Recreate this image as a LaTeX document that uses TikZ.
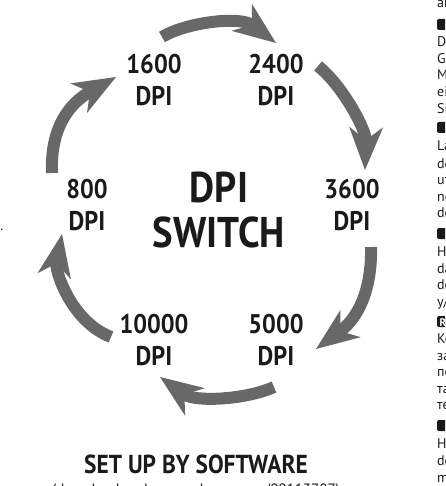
\documentclass[tikz,border=0pt]{standalone}
\usepackage{fontspec}
\setmainfont{PT Sans}
\newfontfamily\labelfont[FakeStretch=0.9]{PT Sans}
\usetikzlibrary{arrows.meta}
\definecolor{arrowgray}{RGB}{104,104,104}
\definecolor{inkblack}{RGB}{26,26,26}

\begin{document}
\begin{tikzpicture}[x=1pt,y=-1pt,
    dpilabel/.style={font=\labelfont\bfseries\fontsize{27}{32}\selectfont, align=center, inner sep=0pt, text=inkblack},
    cyclearrow/.style={draw=arrowgray, line width=12pt,
        -{Stealth[length=43pt,width=34pt,inset=13pt,line width=0pt]}},
    sidetext/.style={font=\fontsize{14}{17}\selectfont, anchor=base west, inner sep=0pt, text=inkblack}]

    % Seitenformat
    \useasboundingbox (0,0) rectangle (445,486);
    \clip (0,0) rectangle (445,486);

    % DPI-Stufen
    \node[dpilabel] (n1600)  at (154,80)  {1600\\DPI};
    \node[dpilabel] (n2400)  at (276,80)  {2400\\DPI};
    \node[dpilabel] (n800)   at (87,205)  {800\\DPI};
    \node[dpilabel] (n3600)  at (352,205) {3600\\DPI};
    \node[dpilabel] (n10000) at (154,340) {10000\\DPI};
    \node[dpilabel] (n5000)  at (276,340) {5000\\DPI};

    \node[font=\labelfont\bfseries\fontsize{43}{45}\selectfont, align=center, inner sep=0pt, text=inkblack]
        (title) at (219,210) {DPI\\SWITCH};

    % Pfeilenden
    \coordinate (t1600)  at (162,37);  \coordinate (h2400)  at (276,43);
    \coordinate (t2400)  at (318,66);  \coordinate (h3600)  at (365,170);
    \coordinate (t3600)  at (371,247); \coordinate (h5000)  at (316,349);
    \coordinate (t5000)  at (274,387); \coordinate (h10000) at (160,377);
    \coordinate (t10000) at (111,337); \coordinate (h800)   at (62,234);
    \coordinate (t800)   at (52,173);  \coordinate (h1600)  at (116,77);

    % Kreislauf
    \draw[cyclearrow] (t1600)  .. controls (187,22)  and (240,16)  .. (h2400);
    \draw[cyclearrow] (t2400)  .. controls (343,86)  and (366,130) .. (h3600);
    \draw[cyclearrow] (t3600)  .. controls (372,290) and (358,318) .. (h5000);
    \draw[cyclearrow] (t5000)  .. controls (245,400) and (195,402) .. (h10000);
    \draw[cyclearrow] (t10000) .. controls (72,322)  and (55,272)  .. (h800);
    \draw[cyclearrow] (t800)   .. controls (50,125)  and (72,102)  .. (h1600);

    % Fusszeile
    \node[font=\labelfont\bfseries\fontsize{26}{30}\selectfont, anchor=base, inner sep=0pt, text=inkblack]
        (setup) at (196,473) {SET UP BY SOFTWARE};
    \node[font=\fontsize{15}{18}\selectfont, anchor=base, inner sep=0pt, text=inkblack]
        (download) at (196,494) {(download under www.hama.com/00113787)};

    % Nachbarspalte (abgeschnitten)
    \foreach \yy in {19,122,228,316,420} {
        \fill[inkblack, rounded corners=2pt] (437,\yy) rectangle (475,\yy+11);
    }
    \node[sidetext, text=white, font=\bfseries\fontsize{11}{13}\selectfont] (boxR) at (439.5,326) {R};
    \foreach \txt/\yy [count=\k] in {ar/8, Di/47, G/63.5, M/80, ei/97, Si/113.5,
            La/151, de/168, ut/184, no/201, de/217,
            Ha/256, da/273, de/289, y\slash/306,
            Ко/343, за/360, по/376, та/393, те/409,
            Ha/448, de/465, m/482} {
        \node[sidetext] (side\k) at (437,\yy) {\txt};
    }
    \node[sidetext, anchor=base east] (dot) at (3.5,230) {.};
\end{tikzpicture}
\end{document}
